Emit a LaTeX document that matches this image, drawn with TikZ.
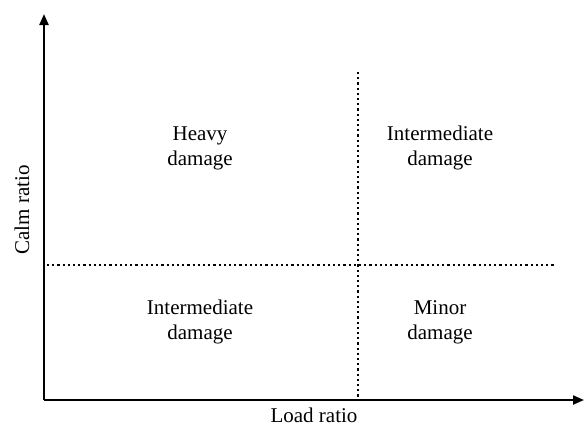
\documentclass[tikz,border=0pt]{standalone}
\usepackage{fontspec}
\setmainfont{Liberation Serif}
\usetikzlibrary{arrows.meta}

\begin{document}
\begin{tikzpicture}[x=1pt,y=-1pt,
  axis/.style={line width=2.2pt,-{Triangle[length=11pt,width=9pt]}},
  divider/.style={line width=2.2pt,dash pattern=on 2.2pt off 3pt},
  zone/.style={align=center,font=\fontsize{21}{25}\selectfont}]
\useasboundingbox (0,0) rectangle (585,429);
\coordinate (o) at (44,400); \coordinate (ytip) at (44,14); \coordinate (xtip) at (584,400);
\coordinate (vtop) at (358,72); \coordinate (vbot) at (358,400);
\coordinate (hl) at (47,265); \coordinate (hr) at (556,265);
\draw[axis] (o) -- (ytip); \draw[axis] (o) -- (xtip);
\draw[divider] (vtop) -- (vbot); \draw[divider] (hl) -- (hr);
\node[zone] (heavy) at (200,148){Heavy\\damage};
\node[zone] (intup) at (440,148){Intermediate\\damage};
\node[zone] (intlo) at (200,322){Intermediate\\damage};
\node[zone] (minor) at (440,322){Minor\\damage};
\node[zone,rotate=90] (calm) at (22,210){Calm ratio};
\node[zone,inner sep=0pt] (load) at (314,415){Load ratio};
\end{tikzpicture}
\end{document}
